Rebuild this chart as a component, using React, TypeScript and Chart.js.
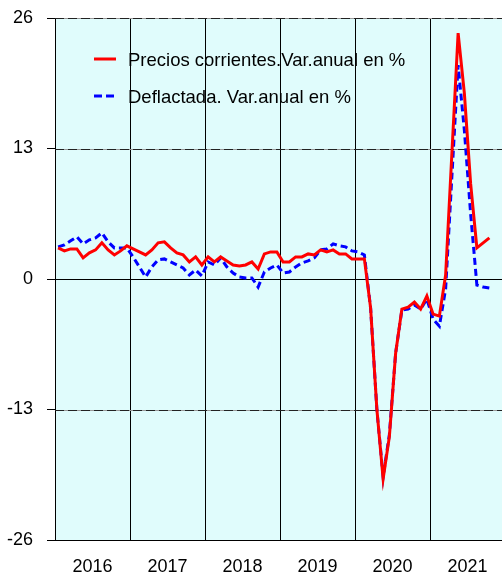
import React, { useEffect, useRef } from "react";
import { Chart, registerables } from "chart.js";

Chart.register(...registerables);

const years = ["2016", "2017", "2018", "2019", "2020", "2021"];
const yTicks = [-26, -13, 0, 13, 26];

const seriesNames = ["Precios corrientes.Var.anual en %", "Deflactada. Var.anual en %"];

// Monthly values, Jan 2016 .. Oct 2021
const corrientes = [
  3.1, 2.8, 3.0, 3.0, 2.1, 2.6, 2.9, 3.6, 2.9, 2.4, 2.8, 3.3,
  3.0, 2.7, 2.4, 2.9, 3.6, 3.7, 3.1, 2.6, 2.4, 1.7, 2.2, 1.4,
  2.2, 1.7, 2.2, 1.8, 1.4, 1.3, 1.4, 1.7, 1.0, 2.5, 2.7, 2.7,
  1.7, 1.7, 2.2, 2.2, 2.5, 2.4, 2.9, 2.7, 2.9, 2.5, 2.5, 2.0,
  2.0, 2.0, -2.9, -13.0, -19.9, -15.7, -7.4, -3.0, -2.8, -2.3, -3.0, -1.7,
  -3.5, -3.7, 0.4, 12.5, 24.5, 18.5, 9.5, 3.1, 3.6, 4.1,
];

const deflactada = [
  3.2, 3.4, 3.8, 4.2, 3.5, 3.9, 4.1, 4.6, 3.7, 3.1, 3.1, 3.1,
  2.2, 1.2, 0.2, 1.2, 1.9, 2.0, 1.7, 1.4, 1.1, 0.4, 0.9, 0.3,
  1.7, 1.4, 2.1, 1.2, 0.6, 0.2, 0.1, 0.1, -0.8, 0.7, 1.1, 1.4,
  0.6, 0.7, 1.2, 1.6, 1.8, 2.1, 2.9, 3.0, 3.5, 3.3, 3.2, 2.8,
  2.7, 2.4, -2.9, -13.0, -19.7, -15.5, -7.4, -3.1, -3.0, -2.6, -3.0, -2.0,
  -4.0, -4.7, -1.0, 10.2, 21.3, 14.8, 6.5, -0.6, -0.8, -0.9,
];

const FONT = "'Liberation Sans', Arial, sans-serif";

const toPoints = (arr: number[]) => arr.map((v, i) => ({ x: i + 0.5, y: v }));

export default function App() {
  const ref = useRef<HTMLCanvasElement | null>(null);

  useEffect(() => {
    document.body.style.margin = "0";
    const canvas = ref.current;
    if (!canvas) return;

    const bgPlugin = {
      id: "bg",
      beforeDraw(chart: any) {
        const { ctx, chartArea } = chart;
        ctx.save();
        ctx.fillStyle = "#E0FCFC";
        ctx.fillRect(chartArea.left, chartArea.top, chartArea.right - chartArea.left, chartArea.bottom - chartArea.top);
        ctx.restore();
      },
    };

    const hGridPlugin = {
      id: "hgrid",
      beforeDatasetsDraw(chart: any) {
        const { ctx, chartArea, scales } = chart;
        const y = scales.y;
        ctx.save();
        yTicks.forEach((t) => {
          if (t === -26) return;
          const py = Math.round(y.getPixelForValue(t)) + 0.5;
          ctx.beginPath();
          ctx.moveTo(chartArea.left, py);
          ctx.lineTo(chartArea.right, py);
          if (t === 0) {
            ctx.setLineDash([]);
            ctx.strokeStyle = "#000";
            ctx.lineWidth = 1;
            ctx.stroke();
          } else {
            ctx.setLineDash([]);
            ctx.strokeStyle = "#9a9a9a";
            ctx.lineWidth = 1;
            ctx.stroke();
            ctx.beginPath();
            ctx.moveTo(chartArea.left, py);
            ctx.lineTo(chartArea.right, py);
            ctx.setLineDash([9, 4]);
            ctx.strokeStyle = "#222";
            ctx.stroke();
          }
        });
        ctx.restore();
      },
    };

    const legendPlugin = {
      id: "customLegend",
      afterDraw(chart: any) {
        const { ctx, chartArea } = chart;
        const x0 = chartArea.left + 39;
        const rows = [
          { y: chartArea.top + 41, color: "#ff0000", dash: [] as number[] },
          { y: chartArea.top + 78, color: "#0000ff", dash: [8, 4] },
        ];
        ctx.save();
        rows.forEach((r, i) => {
          ctx.beginPath();
          ctx.setLineDash(r.dash);
          ctx.strokeStyle = r.color;
          ctx.lineWidth = 3;
          ctx.moveTo(x0, r.y);
          ctx.lineTo(x0 + 22, r.y);
          ctx.stroke();
          ctx.setLineDash([]);
          ctx.fillStyle = "#000";
          ctx.font = `18.5px ${FONT}`;
          ctx.textBaseline = "alphabetic";
          ctx.textAlign = "left";
          ctx.fillText(seriesNames[i], x0 + 34, r.y + 7);
        });
        ctx.restore();
      },
    };

    const chart = new Chart(canvas, {
      type: "line",
      data: {
        datasets: [
          {
            label: seriesNames[0],
            data: toPoints(corrientes),
            borderColor: "#ff0000",
            backgroundColor: "#ff0000",
            borderWidth: 3,
            pointRadius: 0,
            tension: 0,
            fill: false,
          },
          {
            label: seriesNames[1],
            data: toPoints(deflactada),
            borderColor: "#0000ff",
            backgroundColor: "#0000ff",
            borderWidth: 3,
            borderDash: [7, 4],
            pointRadius: 0,
            tension: 0,
            fill: false,
          },
        ],
      },
      options: {
        animation: false,
        responsive: false,
        maintainAspectRatio: false,
        layout: { padding: { top: 18, left: 0, right: 0, bottom: 0 } },
        plugins: {
          legend: { display: false },
          tooltip: { enabled: false },
        },
        scales: {
          x: {
            type: "linear",
            min: 0,
            max: 71.52,
            afterBuildTicks: (scale: any) => {
              const t = [];
              for (let v = 0; v <= 66; v += 6) t.push({ value: v });
              scale.ticks = t;
            },
            afterFit: (scale: any) => {
              scale.height = 32;
              scale.paddingLeft = 0;
              scale.paddingRight = 0;
            },
            ticks: {
              autoSkip: false,
              maxRotation: 0,
              minRotation: 0,
              padding: 16,
              color: "#000",
              font: { family: FONT, size: 18 },
              callback: (value: any) => {
                const v = Number(value);
                if (v % 12 === 6) return years[(v - 6) / 12];
                return "";
              },
            },
            grid: {
              drawTicks: false,
              color: (ctx: any) =>
                ctx.tick && ctx.tick.value % 12 === 0 ? "#000" : "rgba(0,0,0,0)",
              lineWidth: 1,
            },
            border: { display: true, color: "#000", width: 1 },
          },
          y: {
            type: "linear",
            min: -26,
            max: 26,
            afterBuildTicks: (scale: any) => {
              scale.ticks = yTicks.map((v) => ({ value: v }));
            },
            afterFit: (scale: any) => {
              scale.width = 55;
              scale.paddingTop = 0;
              scale.paddingBottom = 0;
            },
            ticks: {
              padding: 14,
              color: "#000",
              font: { family: FONT, size: 18 },
              callback: (value: any) => String(value),
            },
            grid: {
              drawTicks: true,
              tickLength: 8,
              color: "rgba(0,0,0,0)",
              tickColor: "#000",
              tickWidth: 1,
            },
            border: { display: true, color: "#000", width: 1 },
          },
        },
      },
      plugins: [bgPlugin, hGridPlugin, legendPlugin],
    });

    return () => chart.destroy();
  }, []);

  return (
    <div style={{ width: 502, height: 572 }}>
      <canvas ref={ref} width={502} height={572} style={{ width: 502, height: 572, display: "block" }} />
    </div>
  );
}
